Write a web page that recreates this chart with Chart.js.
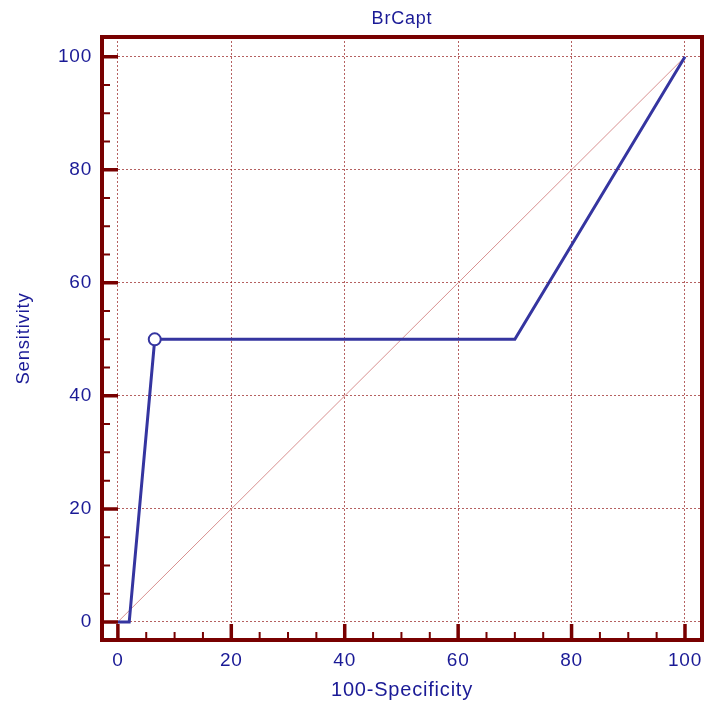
<!DOCTYPE html>
<html>
<head>
<meta charset="utf-8">
<script src="https://cdn.jsdelivr.net/npm/chart.js@4/dist/chart.umd.min.js"></script>
<style>
  html, body { margin: 0; padding: 0; background: #fff; }
</style>
</head>
<body>
<canvas id="roc" width="705" height="706"></canvas>
<script>
// ROC curve points (100-Specificity, Sensitivity)
const rocX = [0, 2, 6.5, 70, 100];
const rocY = [0, 0, 50, 50, 100];
// criterion point marked with an open circle
const cutX = [6.5];
const cutY = [50];
// reference diagonal
const refX = [0, 100];
const refY = [0, 100];
// axis ticks
const majorTicks = [0, 20, 40, 60, 80, 100];
const minorStep = 5;

const txtColor = '#1a1a96';
const lineColor = '#3535a0';
const frameColor = '#780000';
const family = '"Liberation Sans", Arial, sans-serif';

const toPts = (xs, ys) => xs.map((x, i) => ({ x: x, y: ys[i] }));

// slightly wider text, the original is GDI-rendered
const spacingPlugin = {
  id: 'spacing',
  beforeDraw(chart) {
    chart.ctx.letterSpacing = '0.8px';
  }
};

// frame + inward ticks, like the original plot
const framePlugin = {
  id: 'frame',
  afterDatasetsDraw(chart) {
    const { ctx, chartArea: a, scales } = chart;
    const xs = scales.x, ys = scales.y;
    ctx.save();
    ctx.strokeStyle = frameColor;
    ctx.lineCap = 'butt';

    const minors = [];
    for (let i = 0; i < majorTicks.length - 1; i++) {
      for (let v = majorTicks[i] + minorStep; v < majorTicks[i + 1]; v += minorStep) minors.push(v);
    }

    // minor ticks
    ctx.lineWidth = 2;
    ctx.beginPath();
    minors.forEach(v => {
      const px = xs.getPixelForValue(v);
      ctx.moveTo(px, a.bottom);
      ctx.lineTo(px, a.bottom - 8);
      const py = ys.getPixelForValue(v);
      ctx.moveTo(a.left, py);
      ctx.lineTo(a.left + 8, py);
    });
    ctx.stroke();

    // major ticks
    ctx.lineWidth = 3.5;
    ctx.beginPath();
    majorTicks.forEach(v => {
      const px = xs.getPixelForValue(v);
      ctx.moveTo(px, a.bottom);
      ctx.lineTo(px, a.bottom - 16);
      const py = ys.getPixelForValue(v);
      ctx.moveTo(a.left, py);
      ctx.lineTo(a.left + 16, py);
    });
    ctx.stroke();

    // frame
    ctx.lineWidth = 4;
    ctx.strokeRect(a.left, a.top, a.right - a.left, a.bottom - a.top);
    ctx.restore();
  }
};

new Chart(document.getElementById('roc'), {
  type: 'scatter',
  data: {
    datasets: [
      {
        data: toPts(refX, refY),
        order: 3,
        showLine: true,
        borderColor: '#d89090',
        borderWidth: 1,
        pointRadius: 0
      },
      {
        data: toPts(rocX, rocY),
        order: 2,
        showLine: true,
        borderColor: lineColor,
        borderWidth: 3,
        pointRadius: 0,
        tension: 0
      },
      {
        data: toPts(cutX, cutY),
        order: 1,
        showLine: false,
        pointRadius: 6,
        pointBackgroundColor: '#ffffff',
        pointBorderColor: lineColor,
        pointBorderWidth: 2
      }
    ]
  },
  options: {
    responsive: false,
    animation: false,
    layout: { autoPadding: false, padding: { top: 0, right: 3, bottom: 0, left: 0 } },
    plugins: {
      legend: { display: false },
      tooltip: { enabled: false },
      title: {
        display: true,
        fullSize: false,
        text: 'BrCapt',
        color: txtColor,
        font: { family: family, size: 18, weight: 'normal' },
        padding: { top: 8.5, bottom: 6.9 }
      }
    },
    scales: {
      x: {
        type: 'linear',
        min: -2.8,
        max: 103,
        afterBuildTicks: s => { s.ticks = majorTicks.map(v => ({ value: v })); },
        afterFit: s => { s.height = 66; s.paddingLeft = 0; s.paddingRight = 0; },
        grid: { color: 'rgba(150, 30, 30, 0.7)', lineWidth: 1, drawTicks: false },
        border: { display: false, dash: [2, 2] },
        ticks: { color: txtColor, font: { family: family, size: 19 }, padding: 9, maxRotation: 0 },
        title: {
          display: true,
          text: '100-Specificity',
          color: txtColor,
          font: { family: family, size: 20 },
          padding: { top: 0, bottom: 4 }
        }
      },
      y: {
        type: 'linear',
        min: -3.2,
        max: 103.5,
        afterBuildTicks: s => { s.ticks = majorTicks.map(v => ({ value: v })); },
        afterFit: s => { s.width = 102; s.paddingTop = 0; s.paddingBottom = 0; },
        grid: { color: 'rgba(150, 30, 30, 0.7)', lineWidth: 1, drawTicks: false },
        border: { display: false, dash: [2, 2] },
        ticks: { color: txtColor, font: { family: family, size: 19 }, padding: 10 },
        title: {
          display: true,
          text: 'Sensitivity',
          color: txtColor,
          font: { family: family, size: 18.5 },
          padding: { top: 13, bottom: 0 }
        }
      }
    }
  },
  plugins: [spacingPlugin, framePlugin]
});
</script>
</body>
</html>
